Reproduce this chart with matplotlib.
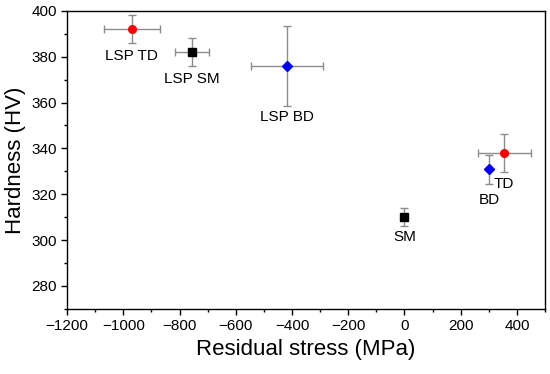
import matplotlib.pyplot as plt
from matplotlib.ticker import MultipleLocator

plt.rcParams['font.family'] = ['Liberation Sans', 'DejaVu Sans']

labels = ["LSP TD", "LSP SM", "LSP BD", "SM", "TD", "BD"]
stress = [-970, -755, -418, 0, 355, 300]
stress_err = [100, 60, 127, 0, 95, 0]
hardness = [392, 382, 376, 310, 338, 331]
hardness_err = [6, 6, 17.5, 4, 8.5, 6.3]
markers = ["o", "s", "D", "s", "o", "D"]
colors = ["red", "black", "blue", "black", "red", "blue"]
# label offsets in points (dx, dy)
offsets = [(0, -19), (0, -19), (0, -37), (0, -14), (0, -22), (0, -22)]

fig = plt.figure(figsize=(5.5, 3.74), dpi=100)
ax = fig.add_axes([0.122, 0.174, 0.869, 0.797])

for i in range(len(labels)):
    ax.errorbar(stress[i], hardness[i],
                xerr=stress_err[i] if stress_err[i] else None,
                yerr=hardness_err[i],
                fmt="none", ecolor="#8c8c8c", elinewidth=1,
                capsize=3, capthick=1, zorder=2)
    ax.plot(stress[i], hardness[i], marker=markers[i], color=colors[i],
            markersize=5.5 if markers[i] != "D" else 5, linestyle="none",
            zorder=3)
    ax.annotate(labels[i], (stress[i], hardness[i]),
                xytext=offsets[i], textcoords="offset points",
                ha="center", va="center", fontsize=11)

ax.set_xlim(-1200, 500)
ax.set_ylim(270, 400)
ax.xaxis.set_major_locator(MultipleLocator(200))
ax.xaxis.set_minor_locator(MultipleLocator(100))
ax.yaxis.set_major_locator(MultipleLocator(20))
ax.yaxis.set_minor_locator(MultipleLocator(10))
ax.tick_params(which="major", direction="out", length=4, width=1,
               labelsize=11)
ax.tick_params(which="minor", direction="out", length=2.5, width=1)
for s in ax.spines.values():
    s.set_linewidth(1)

ax.set_xlabel("Residual stress (MPa)", fontsize=16)
ax.set_ylabel("Hardness (HV)", fontsize=16)

fig.savefig("out.png", dpi=100)
